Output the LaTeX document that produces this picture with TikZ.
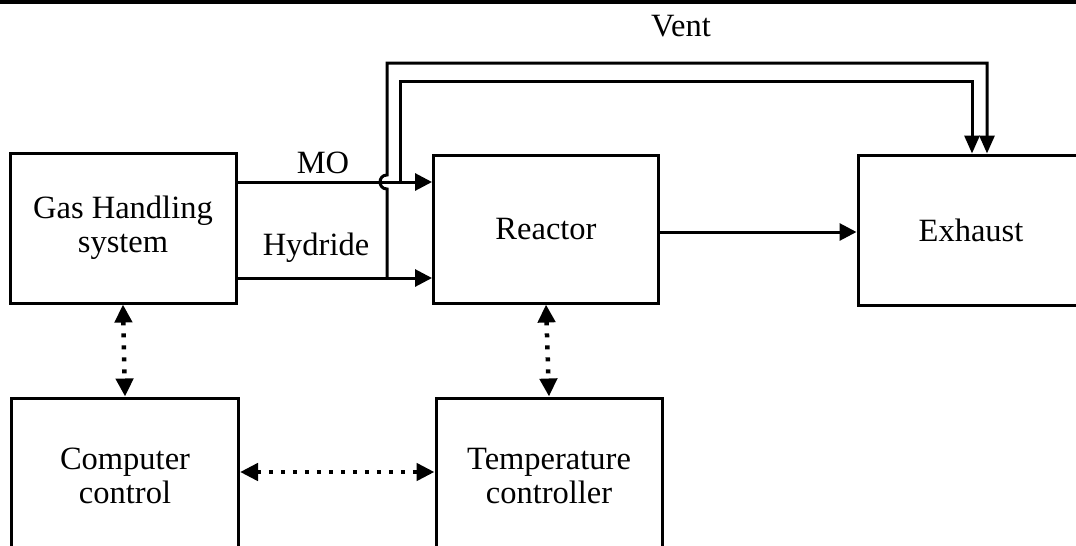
\documentclass[tikz,border=0pt]{standalone}
\usepackage{fontspec}
\setmainfont{Liberation Serif}
\usetikzlibrary{arrows.meta}
\tikzset{
  box/.style={draw, line width=3pt, align=center, inner sep=0pt,
    font=\fontsize{32.5}{34}\selectfont},
  lbl/.style={font=\fontsize{32.5}{34}\selectfont, inner sep=0pt, anchor=base},
  arr/.style={line width=3pt, -{Triangle[length=17pt,width=17pt]}},
  dotarr/.style={line width=4.5pt, dash pattern=on 4pt off 8pt,
    {Triangle[length=18pt,width=17pt]}-{Triangle[length=18pt,width=17pt]}}
}
\begin{document}
\begin{tikzpicture}[x=1pt,y=-1pt]
\useasboundingbox (0,0) rectangle (1076,546);
\clip (0,0) rectangle (1076,546);
% top frame line
\draw[line width=4pt] (0,1.5) -- (1076,1.5);
% boxes
\node[box, minimum width=226pt, minimum height=150pt] (gas) at (123,228) {Gas Handling\\system};
\node[box, minimum width=225pt, minimum height=148pt] (reac) at (546,229) {Reactor};
\node[box, minimum width=226pt, minimum height=150pt] (exh) at (971,230) {Exhaust};
\node[box, minimum width=227pt, minimum height=156pt] (comp) at (125,476) {Computer\\control};
\node[box, minimum width=226pt, minimum height=156pt] (temp) at (549,476) {Temperature\\controller};
% labels
\node[lbl] (vent) at (681,36) {Vent};
\node[lbl] (mo) at (323,173) {MO};
\node[lbl] (hyd) at (316,255) {Hydride};
% helper coordinates
\coordinate (moy) at (0,182);
\coordinate (hyy) at (0,278);
\coordinate (rey) at (0,232);
\coordinate (hj) at (387,278);
\coordinate (mj) at (400,182);
% MO and Hydride lines
\draw[arr] (gas.east |- moy) -- (reac.west |- moy);
\draw[arr] (gas.east |- hyy) -- (reac.west |- hyy);
% Reactor to Exhaust
\draw[arr] (reac.east |- rey) -- (exh.west |- rey);
% vent lines
\draw[line width=3pt, -{Triangle[length=18pt,width=15pt]}]
  (hj) -- (387,189) .. controls (377.7,189) and (377.7,175) .. (387,175)
  -- (387,63) -- (987,63) -- (exh.north -| 987,0);
\draw[line width=3pt, -{Triangle[length=18pt,width=15pt]}]
  (mj) -- (400,81) -- (972,81) -- (exh.north -| 972,0);
% dotted control links
\draw[dotarr] (gas.south) -- (comp.north);
\draw[dotarr] (reac.south) -- (temp.north);
\draw[dotarr] (comp.east |- 0,472) -- (temp.west |- 0,472);
\end{tikzpicture}
\end{document}
